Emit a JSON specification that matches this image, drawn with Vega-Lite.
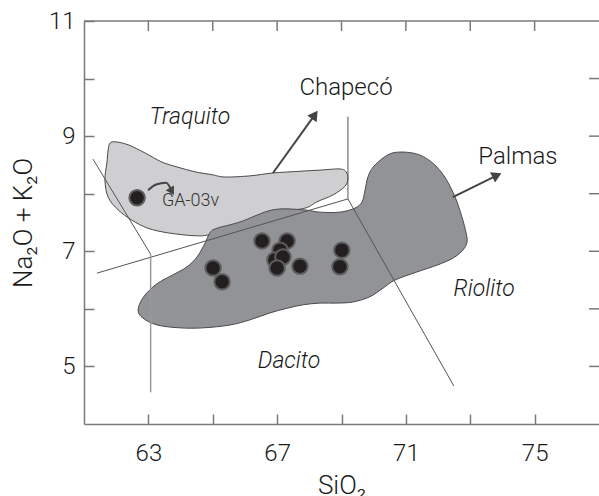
{
  "$schema": "https://vega.github.io/schema/vega-lite/v6.json",
  "autosize": "none",
  "width": 515,
  "height": 403,
  "padding": {"left": 84, "top": 21, "right": 0, "bottom": 72},
  "background": "white",
  "config": {
    "view": {"stroke": null},
    "font": "Roboto",
    "axis": {
      "grid": false,
      "domainColor": "#7a7a7a",
      "domainWidth": 1.5,
      "tickColor": "#7a7a7a",
      "tickWidth": 1.5,
      "tickSize": -10,
      "labelFont": "Roboto",
      "labelFontWeight": 300,
      "labelFontSize": 24,
      "labelColor": "#1a1a1a",
      "titleFont": "Roboto",
      "titleFontSize": 26,
      "titleFontWeight": 300,
      "titleColor": "#1a1a1a"
    }
  },
  "datasets": {
    "light": [
      {"order": 1, "x": 61.81, "y": 8.88}, {"order": 2, "x": 61.99, "y": 8.90}, {"order": 3, "x": 62.37, "y": 8.85},
      {"order": 4, "x": 62.89, "y": 8.71}, {"order": 5, "x": 63.42, "y": 8.55}, {"order": 6, "x": 63.92, "y": 8.46},
      {"order": 7, "x": 64.45, "y": 8.38}, {"order": 8, "x": 64.98, "y": 8.33}, {"order": 9, "x": 65.38, "y": 8.29},
      {"order": 10, "x": 66.16, "y": 8.31}, {"order": 11, "x": 66.87, "y": 8.36}, {"order": 12, "x": 67.71, "y": 8.39},
      {"order": 13, "x": 68.33, "y": 8.41}, {"order": 14, "x": 68.95, "y": 8.43}, {"order": 15, "x": 69.14, "y": 8.38},
      {"order": 16, "x": 69.20, "y": 8.27}, {"order": 17, "x": 69.11, "y": 8.13}, {"order": 18, "x": 68.74, "y": 7.98},
      {"order": 19, "x": 68.24, "y": 7.86}, {"order": 20, "x": 67.87, "y": 7.75}, {"order": 21, "x": 67.09, "y": 7.68},
      {"order": 22, "x": 66.16, "y": 7.51}, {"order": 23, "x": 64.98, "y": 7.30}, {"order": 24, "x": 64.45, "y": 7.27},
      {"order": 25, "x": 63.61, "y": 7.32}, {"order": 26, "x": 62.99, "y": 7.40}, {"order": 27, "x": 62.49, "y": 7.54},
      {"order": 28, "x": 62.06, "y": 7.72}, {"order": 29, "x": 61.75, "y": 7.94}, {"order": 30, "x": 61.65, "y": 8.24},
      {"order": 31, "x": 61.71, "y": 8.53}, {"order": 32, "x": 61.75, "y": 8.76}
    ],
    "dark": [
      {"order": 1, "x": 64.91, "y": 7.32}, {"order": 2, "x": 65.13, "y": 7.40}, {"order": 3, "x": 65.85, "y": 7.51},
      {"order": 4, "x": 66.87, "y": 7.72}, {"order": 5, "x": 67.80, "y": 7.72}, {"order": 6, "x": 68.33, "y": 7.68},
      {"order": 7, "x": 68.95, "y": 7.68}, {"order": 8, "x": 69.42, "y": 7.75}, {"order": 9, "x": 69.64, "y": 7.86},
      {"order": 10, "x": 69.73, "y": 8.06}, {"order": 11, "x": 69.82, "y": 8.29}, {"order": 12, "x": 69.98, "y": 8.46},
      {"order": 13, "x": 70.29, "y": 8.62}, {"order": 14, "x": 70.60, "y": 8.71}, {"order": 15, "x": 71.03, "y": 8.72},
      {"order": 16, "x": 71.44, "y": 8.67}, {"order": 17, "x": 71.84, "y": 8.53}, {"order": 18, "x": 72.21, "y": 8.29},
      {"order": 19, "x": 72.53, "y": 7.94}, {"order": 20, "x": 72.74, "y": 7.60}, {"order": 21, "x": 72.87, "y": 7.32},
      {"order": 22, "x": 72.90, "y": 7.16}, {"order": 23, "x": 72.77, "y": 7.02}, {"order": 24, "x": 72.46, "y": 6.88},
      {"order": 25, "x": 71.97, "y": 6.76}, {"order": 26, "x": 71.34, "y": 6.64}, {"order": 27, "x": 70.66, "y": 6.50},
      {"order": 28, "x": 70.29, "y": 6.36}, {"order": 29, "x": 69.88, "y": 6.21}, {"order": 30, "x": 69.36, "y": 6.12},
      {"order": 31, "x": 68.86, "y": 6.10}, {"order": 32, "x": 68.33, "y": 6.10}, {"order": 33, "x": 67.80, "y": 6.07},
      {"order": 34, "x": 67.31, "y": 6.01}, {"order": 35, "x": 66.78, "y": 5.93}, {"order": 36, "x": 66.16, "y": 5.81},
      {"order": 37, "x": 65.54, "y": 5.72}, {"order": 38, "x": 64.70, "y": 5.67}, {"order": 39, "x": 63.98, "y": 5.67},
      {"order": 40, "x": 63.27, "y": 5.72}, {"order": 41, "x": 62.83, "y": 5.84}, {"order": 42, "x": 62.68, "y": 5.98},
      {"order": 43, "x": 62.83, "y": 6.19}, {"order": 44, "x": 63.14, "y": 6.38}, {"order": 45, "x": 63.45, "y": 6.50},
      {"order": 46, "x": 63.76, "y": 6.59}, {"order": 47, "x": 64.20, "y": 6.73}, {"order": 48, "x": 64.51, "y": 6.90},
      {"order": 49, "x": 64.76, "y": 7.14}
    ],
    "bounds": [
      {"seg": "a", "order": 1, "x": 61.28, "y": 8.60}, {"seg": "a", "order": 2, "x": 63.07, "y": 6.95},
      {"seg": "b", "order": 1, "x": 61.40, "y": 6.62}, {"seg": "b", "order": 2, "x": 69.20, "y": 7.91},
      {"seg": "c", "order": 1, "x": 69.20, "y": 7.91}, {"seg": "c", "order": 2, "x": 69.20, "y": 9.34},
      {"seg": "d", "order": 1, "x": 69.20, "y": 7.91}, {"seg": "d", "order": 2, "x": 72.49, "y": 4.66}
    ],
    "vert": [
      {"order": 1, "x": 63.07, "y": 6.95}, {"order": 2, "x": 63.07, "y": 4.55}
    ],
    "frame": [
      {"order": 1, "x": 61, "y": 11}, {"order": 2, "x": 77, "y": 11}
    ],
    "topticks": [
      {"x": 63, "y": 11}, {"x": 65, "y": 11}, {"x": 67, "y": 11}, {"x": 69, "y": 11},
      {"x": 71, "y": 11}, {"x": 73, "y": 11}, {"x": 75, "y": 11}
    ],
    "rightticks": [
      {"x": 77, "y": 5}, {"x": 77, "y": 6}, {"x": 77, "y": 7}, {"x": 77, "y": 8},
      {"x": 77, "y": 9}, {"x": 77, "y": 10}
    ],
    "arrows": [
      {"arrow": "Chapecó", "order": 1, "x": 66.87, "y": 8.36}, {"arrow": "Chapecó", "order": 2, "x": 68.17, "y": 9.37},
      {"arrow": "Palmas", "order": 1, "x": 72.46, "y": 7.94}, {"arrow": "Palmas", "order": 2, "x": 73.83, "y": 8.32},
      {"arrow": "GA", "order": 1, "x": 62.99, "y": 8.06}, {"arrow": "GA", "order": 2, "x": 63.24, "y": 8.16},
      {"arrow": "GA", "order": 3, "x": 63.55, "y": 8.19}, {"arrow": "GA", "order": 4, "x": 63.70, "y": 8.08}
    ],
    "heads": [
      {"arrow": "Chapecó", "x": 68.17, "y": 9.37},
      {"arrow": "Palmas", "x": 73.83, "y": 8.32},
      {"arrow": "GA", "x": 63.73, "y": 8.04}
    ],
    "samples": [
      {"sample": "GA-03v", "SiO2": 62.65, "alk": 7.93},
      {"sample": "s1", "SiO2": 66.53, "alk": 7.18},
      {"sample": "s2", "SiO2": 67.31, "alk": 7.18},
      {"sample": "s3", "SiO2": 67.09, "alk": 7.02},
      {"sample": "s4", "SiO2": 66.93, "alk": 6.85},
      {"sample": "s5", "SiO2": 67.18, "alk": 6.90},
      {"sample": "s6", "SiO2": 67.00, "alk": 6.71},
      {"sample": "s7", "SiO2": 67.71, "alk": 6.74},
      {"sample": "s8", "SiO2": 69.01, "alk": 7.02},
      {"sample": "s9", "SiO2": 68.95, "alk": 6.73},
      {"sample": "s10", "SiO2": 65.01, "alk": 6.71},
      {"sample": "s11", "SiO2": 65.29, "alk": 6.47}
    ],
    "labels": [
      {"kind": "field", "text": "Traquito", "x": 64.29, "y": 9.33},
      {"kind": "field", "text": "Riolito", "x": 73.43, "y": 6.34},
      {"kind": "field", "text": "Dacito", "x": 67.37, "y": 5.09},
      {"kind": "suite", "text": "Chapecó", "x": 69.14, "y": 9.84},
      {"kind": "suite", "text": "Palmas", "x": 74.48, "y": 8.64},
      {"kind": "sample", "text": "GA-03v", "x": 63.42, "y": 7.87}
    ]
  },
  "encoding": {
    "x": {"field": "x", "type": "quantitative", "scale": {"domain": [61, 77], "nice": false, "zero": false},
      "axis": {"orient": "bottom", "values": [63, 65, 67, 69, 71, 73, 75], "labelExpr": "datum.value % 4 == 3 ? datum.label : ''", "labelPadding": 27, "title": "SiO₂", "titlePadding": 7}},
    "y": {"field": "y", "type": "quantitative", "scale": {"domain": [4, 11], "nice": false, "zero": false},
      "axis": {"orient": "left", "values": [5, 6, 7, 8, 9, 10, 11], "labelExpr": "datum.value % 2 == 1 ? datum.label : ''", "labelPadding": 19, "title": "Na₂O + K₂O", "titlePadding": 12}}
  },
  "layer": [
    {
      "data": {"name": "light"},
      "mark": {"type": "line", "interpolate": "cardinal-closed", "fill": "#cfcfd1", "stroke": "#4a4a4a", "strokeWidth": 1},
      "encoding": {"order": {"field": "order", "type": "quantitative"}}
    },
    {
      "data": {"name": "dark"},
      "mark": {"type": "line", "interpolate": "cardinal-closed", "fill": "#929396", "stroke": "#4a4a4a", "strokeWidth": 1},
      "encoding": {"order": {"field": "order", "type": "quantitative"}}
    },
    {
      "data": {"name": "bounds"},
      "mark": {"type": "line", "stroke": "#555555", "strokeWidth": 1},
      "encoding": {
        "detail": {"field": "seg"},
        "order": {"field": "order", "type": "quantitative"}
      }
    },
    {
      "data": {"name": "vert"},
      "mark": {"type": "line", "stroke": "#9a9a9a", "strokeWidth": 1.5},
      "encoding": {"order": {"field": "order", "type": "quantitative"}}
    },
    {
      "data": {"name": "frame"},
      "mark": {"type": "line", "stroke": "#7a7a7a", "strokeWidth": 1.5, "clip": false},
      "encoding": {"order": {"field": "order", "type": "quantitative"}}
    },
    {
      "data": {"name": "topticks"},
      "mark": {"type": "point", "shape": "M0,0L0,2", "filled": false, "stroke": "#7a7a7a", "strokeWidth": 1.5, "size": 100, "opacity": 1}
    },
    {
      "data": {"name": "rightticks"},
      "mark": {"type": "point", "shape": "M0,0L-2,0", "filled": false, "stroke": "#7a7a7a", "strokeWidth": 1.5, "size": 100, "opacity": 1}
    },
    {
      "data": {"name": "arrows"},
      "mark": {"type": "line", "stroke": "#444444", "strokeWidth": 2, "interpolate": "monotone"},
      "encoding": {
        "detail": {"field": "arrow"},
        "order": {"field": "order", "type": "quantitative"}
      }
    },
    {
      "data": {"name": "heads"},
      "transform": [{"filter": "datum.arrow == 'Chapecó'"}],
      "mark": {"type": "point", "shape": "triangle-up", "filled": true, "fill": "#444444", "stroke": null, "size": 130, "angle": 35, "opacity": 1}
    },
    {
      "data": {"name": "heads"},
      "transform": [{"filter": "datum.arrow == 'Palmas'"}],
      "mark": {"type": "point", "shape": "triangle-up", "filled": true, "fill": "#444444", "stroke": null, "size": 130, "angle": 64, "opacity": 1}
    },
    {
      "data": {"name": "heads"},
      "transform": [{"filter": "datum.arrow == 'GA'"}],
      "mark": {"type": "point", "shape": "triangle-up", "filled": true, "fill": "#444444", "stroke": null, "size": 90, "angle": 150, "opacity": 1}
    },
    {
      "data": {"name": "samples"},
      "mark": {"type": "point", "shape": "circle", "filled": true, "fill": "#231f20", "stroke": "#5e5e5e", "strokeWidth": 2, "size": 240, "opacity": 1},
      "encoding": {
        "x": {"field": "SiO2", "type": "quantitative"},
        "y": {"field": "alk", "type": "quantitative"}
      }
    },
    {
      "data": {"name": "labels"},
      "transform": [{"filter": "datum.kind == 'field'"}],
      "mark": {"type": "text", "font": "Roboto", "fontWeight": 300, "fontSize": 23, "fontStyle": "italic", "color": "#1a1a1a", "align": "center", "baseline": "middle"},
      "encoding": {"text": {"field": "text"}}
    },
    {
      "data": {"name": "labels"},
      "transform": [{"filter": "datum.kind == 'suite'"}],
      "mark": {"type": "text", "font": "Roboto", "fontWeight": 300, "fontSize": 24, "color": "#1a1a1a", "align": "center", "baseline": "middle"},
      "encoding": {"text": {"field": "text"}}
    },
    {
      "data": {"name": "labels"},
      "transform": [{"filter": "datum.kind == 'sample'"}],
      "mark": {"type": "text", "font": "Roboto", "fontWeight": 300, "fontSize": 18, "color": "#333333", "align": "left", "baseline": "middle"},
      "encoding": {"text": {"field": "text"}}
    }
  ]
}
